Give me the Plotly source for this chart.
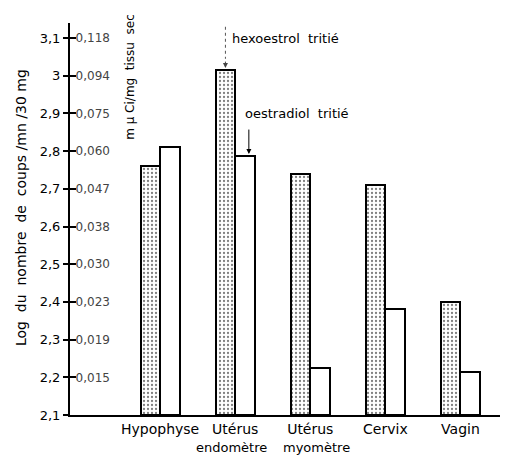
import plotly.graph_objects as go

categories = ["Hypophyse", "Utérus", "Utérus", "Cervix", "Vagin"]
subcategories = ["", "endomètre", "myomètre", "", ""]
hexoestrol = [2.76, 3.015, 2.74, 2.71, 2.40]
oestradiol = [2.812, 2.787, 2.225, 2.38, 2.215]
ytick_vals = [2.1, 2.2, 2.3, 2.4, 2.5, 2.6, 2.7, 2.8, 2.9, 3.0, 3.1]
ytick_left = ["2,1", "2,2", "2,3", "2,4", "2,5", "2,6", "2,7", "2,8", "2,9", "3", "3,1"]
ytick_right = ["<0,015", "0,015", "0,019", "0,023", "0,030", "0,038", "0,047",
               "0,060", "0,075", "0,094", "0,118"]

FONT = "DejaVu Sans"
xs = list(range(len(categories)))
BASE = 2.1
BW = 0.26

fig = go.Figure()
fig.add_trace(go.Bar(
    x=xs, y=[v - BASE for v in hexoestrol], base=BASE, width=BW, offset=-BW,
    marker=dict(color="white", line=dict(color="black", width=2),
                pattern=dict(shape=".", fgcolor="black", bgcolor="white", size=4, solidity=0.25)),
    showlegend=False, yaxis="y"))
fig.add_trace(go.Bar(
    x=xs, y=[v - BASE for v in oestradiol], base=BASE, width=BW, offset=0,
    marker=dict(color="white", line=dict(color="black", width=2)),
    showlegend=False, yaxis="y"))
# invisible trace to activate second axis
fig.add_trace(go.Scatter(x=[xs[0]], y=[BASE], mode="markers", marker=dict(opacity=0),
                         showlegend=False, yaxis="y2", hoverinfo="skip"))
# dotted leader for hexoestrol label
hx = xs[1] - BW / 2
fig.add_trace(go.Scatter(x=[hx, hx], y=[3.13, hexoestrol[1] + 0.03], mode="lines",
                         line=dict(color="#555", width=1, dash="dot"),
                         showlegend=False, hoverinfo="skip"))

yr = [2.1, 3.14]
fig.update_layout(
    width=508, height=457,
    margin=dict(l=62, r=3, t=15, b=50),
    paper_bgcolor="white", plot_bgcolor="white",
    font=dict(family=FONT, size=13, color="black"),
    bargap=0,
    xaxis=dict(range=[-1.2, 4.7], tickvals=xs, ticktext=categories, showgrid=False,
               zeroline=False, showline=True, linecolor="black", linewidth=2, ticks="",
               tickfont=dict(size=14, family=FONT)),
    yaxis=dict(range=yr, tickvals=ytick_vals, ticktext=ytick_left, showgrid=False,
               zeroline=False, showline=True, linecolor="black", linewidth=2,
               ticks="outside", ticklen=5, tickwidth=1.5, tickcolor="black",
               tickfont=dict(size=13, family=FONT), ticklabelstandoff=0),
    yaxis2=dict(range=yr, overlaying="y", side="left", tickvals=ytick_vals,
                ticktext=ytick_right, showgrid=False, zeroline=False, showline=False,
                ticks="inside", ticklen=6, tickwidth=1.5, tickcolor="black",
                ticklabelposition="inside", ticklabelstandoff=-1,
                tickfont=dict(size=12, family=FONT)),
)

sub_shift = [0, -4, 6, 0, 0]
for i, sub in enumerate(subcategories):
    if sub:
        fig.add_annotation(x=xs[i], y=0, xref="x", yref="paper", yanchor="top", yshift=-23,
                           xshift=sub_shift[i], text=sub, showarrow=False,
                           font=dict(size=13, family=FONT))

fig.add_annotation(xref="paper", yref="paper", x=-0.111, xanchor="center", y=0.53,
                   text="Log  du  nombre  de  coups /mn /30 mg",
                   textangle=-90, showarrow=False, font=dict(size=14, family=FONT))
fig.add_annotation(xref="paper", yref="paper", x=0.135, xanchor="center", y=1.028, yanchor="top",
                   text="m µ Ci/mg  tissu  sec", textangle=-90, showarrow=False,
                   font=dict(size=12, family=FONT))

# arrows
fig.add_annotation(x=hx, y=hexoestrol[1], xref="x", yref="y", text="", showarrow=True,
                   ax=0, ay=-10, arrowhead=2, arrowsize=1, arrowwidth=1, arrowcolor="#444",
                   standoff=2)
fig.add_annotation(x=hx, y=3.1, xref="x", yref="y", xanchor="left", xshift=5,
                   text="hexoestrol  tritié", showarrow=False, font=dict(size=13, family=FONT))
ox = xs[1] + BW * 0.7
fig.add_annotation(x=ox, y=oestradiol[1], xref="x", yref="y", text="", showarrow=True,
                   ax=0, ay=-28, arrowhead=2, arrowsize=1, arrowwidth=1, arrowcolor="black",
                   standoff=2)
fig.add_annotation(x=ox, y=2.9, xref="x", yref="y", xanchor="left", xshift=-6,
                   text="oestradiol  tritié", showarrow=False, font=dict(size=13, family=FONT))

fig.write_html("out.html")
